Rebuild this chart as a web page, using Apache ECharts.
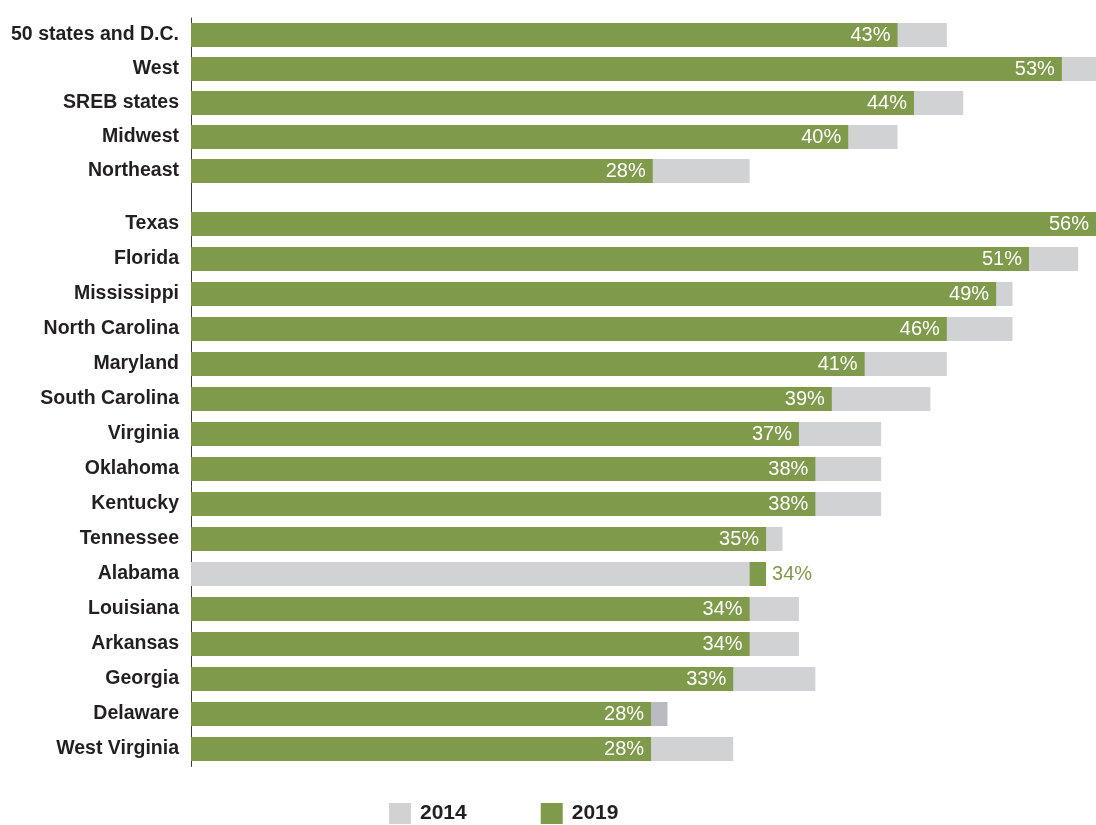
<!DOCTYPE html>
<html><head><meta charset="utf-8">
<script src="https://cdn.jsdelivr.net/npm/echarts@6/dist/echarts.min.js"></script>
<style>html,body{margin:0;padding:0;background:#fff}#c{width:1096px;height:825px}</style>
</head><body><div id="c"></div><script>
// ---- data ----
const regionCategories = ['50 states and D.C.', 'West', 'SREB states', 'Midwest', 'Northeast'];
const region2014 = [46, 55.5, 47, 43, 34];
const region2019 = [43, 53, 44, 40, 28.1];
const region2019Labels = ['43%', '53%', '44%', '40%', '28%'];

const stateCategories = ['Texas', 'Florida', 'Mississippi', 'North Carolina', 'Maryland', 'South Carolina',
  'Virginia', 'Oklahoma', 'Kentucky', 'Tennessee', 'Alabama', 'Louisiana', 'Arkansas', 'Georgia',
  'Delaware', 'West Virginia'];
const state2014 = [54, 54, 50, 50, 46, 45, 42, 42, 42, 36, 34, 37, 37, 38, 29, 33];
const state2019 = [56, 51, 49, 46, 41, 39, 37, 38, 38, 35, 35, 34, 34, 33, 28, 28];
const state2019Labels = ['56%', '51%', '49%', '46%', '41%', '39%', '37%', '38%', '38%', '35%', '34%',
  '34%', '34%', '33%', '28%', '28%'];
// rows where the 2014 bar is drawn in front of the 2019 bar
const stateFront2014 = ['Alabama'];

// ---- styles ----
const GREEN = '#7f9a4b';
const GRAY = '#d1d2d4';
const GRAY_DARK = '#babbc0';
const darkGrayRows = ['Delaware'];
const TEXT = '#231f20';
const FONT = "'Liberation Sans', Arial, sans-serif";

const chart = echarts.init(document.getElementById('c'), null, {renderer: 'canvas'});

function labelFor(arr) {
  return {
    show: true, position: 'insideRight', distance: 7, color: '#fff',
    fontSize: 20, fontFamily: FONT,
    formatter: p => arr[p.dataIndex]
  };
}

const state2014Data = state2014.map((v, i) =>
  darkGrayRows.includes(stateCategories[i]) ? {value: v, itemStyle: {color: GRAY_DARK}} : v);
const state2019Data = state2019.map((v, i) => {
  if (stateFront2014.includes(stateCategories[i])) {
    return {value: v, label: {position: 'right', distance: 6, color: GREEN}};
  }
  return v;
});
const stateFrontData = state2014.map((v, i) => stateFront2014.includes(stateCategories[i]) ? v : null);

const yAxisCommon = {
  type: 'category', inverse: true,
  axisLine: {show: true, lineStyle: {color: '#3c3c3c', width: 1}},
  axisTick: {show: false},
  axisLabel: {color: TEXT, fontSize: 19.5, fontFamily: FONT, fontWeight: 'bold', margin: 12}
};
const xAxisCommon = {type: 'value', min: 0, max: 55.08, show: false};

chart.setOption({
  animation: false,
  textStyle: {fontFamily: FONT},
  grid: [
    {left: 191, right: 0, top: 18, height: 204, outerBoundsMode: 'none', containLabel: false},
    {left: 191, right: 0, top: 206.5, height: 560, outerBoundsMode: 'none', containLabel: false}
  ],
  xAxis: [
    Object.assign({gridIndex: 0}, xAxisCommon),
    Object.assign({gridIndex: 1}, xAxisCommon)
  ],
  yAxis: [
    Object.assign({gridIndex: 0, data: regionCategories.concat([''])}, yAxisCommon),
    Object.assign({gridIndex: 1, data: stateCategories}, yAxisCommon)
  ],
  legend: {
    data: ['2014', '2019'], left: 389, top: 803, padding: 0,
    itemWidth: 22, itemHeight: 21, itemGap: 74,
    icon: 'rect',
    textStyle: {color: TEXT, fontSize: 21, fontWeight: 'bold', fontFamily: FONT, padding: [8, 0, 0, 4]}
  },
  series: [
    {name: '2014', type: 'bar', xAxisIndex: 0, yAxisIndex: 0, data: region2014,
      barWidth: 24, barGap: '-100%', itemStyle: {color: GRAY}},
    {name: '2019', type: 'bar', xAxisIndex: 0, yAxisIndex: 0, data: region2019,
      barWidth: 24, barGap: '-100%', itemStyle: {color: GREEN}, label: labelFor(region2019Labels)},
    {name: '2014', type: 'bar', xAxisIndex: 1, yAxisIndex: 1, data: state2014Data,
      barWidth: 24, barGap: '-100%', itemStyle: {color: GRAY}},
    {name: '2019', type: 'bar', xAxisIndex: 1, yAxisIndex: 1, data: state2019Data,
      barWidth: 24, barGap: '-100%', itemStyle: {color: GREEN}, label: labelFor(state2019Labels)},
    {name: '2014', type: 'bar', xAxisIndex: 1, yAxisIndex: 1, data: stateFrontData,
      barWidth: 24, barGap: '-100%', itemStyle: {color: GRAY}}
  ]
});
</script></body></html>
